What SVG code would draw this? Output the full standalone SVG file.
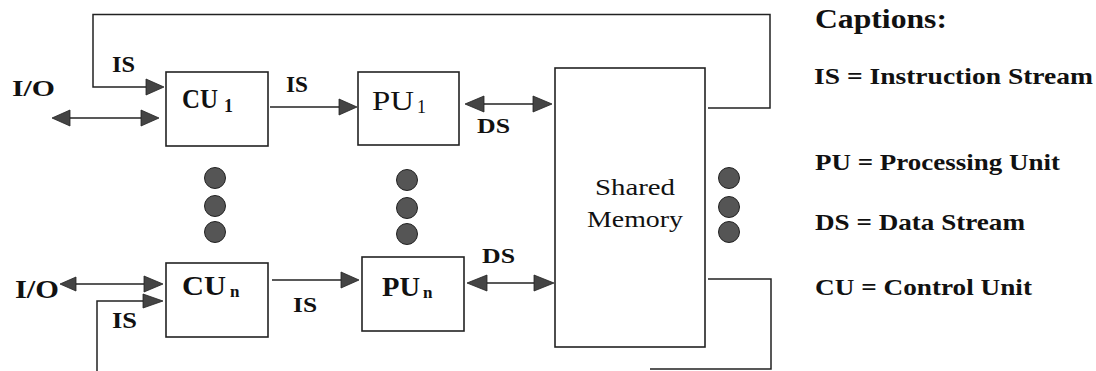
<svg xmlns="http://www.w3.org/2000/svg" width="1096" height="371" viewBox="0 0 1096 371">
<defs>
<style>
.box{fill:#fff;stroke:#222;stroke-width:1.6}
.ln{fill:none;stroke:#222;stroke-width:1.5}
.ah{fill:#444;stroke:#222;stroke-width:0.8}
.dot{fill:#555;stroke:#222;stroke-width:1}
.t{font-family:"Liberation Serif","Times New Roman",serif;fill:#111}
.b{font-weight:bold}
</style>
</defs>
<rect width="1096" height="371" fill="#fff"/>
<g id="connectors">
<path class="ln" d="M708,108 H770 V14.5 H93 V87 H150"/>
<polygon class="ah" points="164,87 146,79 146,95"/>
<path class="ln" d="M66,118 H144"/>
<polygon class="ah" points="52,118 70,110 70,126"/>
<polygon class="ah" points="159,118 141,110 141,126"/>
<path class="ln" d="M270,107 H342"/>
<polygon class="ah" points="357,107 339,99 339,115"/>
<path class="ln" d="M480,104 H536"/>
<polygon class="ah" points="465,104 484,96 484,112"/>
<polygon class="ah" points="552,104 533,96 533,112"/>
<path class="ln" d="M72,284 H146"/>
<polygon class="ah" points="60,284 76,277 76,291"/>
<polygon class="ah" points="163,284 144,276 144,292"/>
<path class="ln" d="M97,371 V301 H146"/>
<polygon class="ah" points="163,301 143,294 143,308"/>
<path class="ln" d="M272,280 H345"/>
<polygon class="ah" points="359,280 341,272 341,288"/>
<path class="ln" d="M482,283 H538"/>
<polygon class="ah" points="467,283 487,275 487,291"/>
<polygon class="ah" points="554,283 534,275 534,291"/>
<path class="ln" d="M708,279 H771 V369 H650"/>
</g>
<g id="cu1">
<rect class="box" x="166" y="72" width="102" height="74"/>
<text class="t b" x="182" y="108" font-size="28" textLength="36" lengthAdjust="spacingAndGlyphs">CU</text>
<text class="t b" x="224" y="112" font-size="18">1</text>
</g>
<g id="cun">
<rect class="box" x="166" y="263" width="102" height="74"/>
<text class="t b" x="182" y="295" font-size="28" textLength="44" lengthAdjust="spacingAndGlyphs">CU</text>
<text class="t b" x="230" y="297" font-size="17">n</text>
</g>
<g id="pu1">
<rect class="box" x="358" y="72" width="101" height="73"/>
<text class="t" x="372" y="110" font-size="28" textLength="42" lengthAdjust="spacingAndGlyphs">PU</text>
<text class="t" x="417" y="113" font-size="18">1</text>
</g>
<g id="pun">
<rect class="box" x="362" y="257" width="102" height="74"/>
<text class="t b" x="382" y="296" font-size="28" textLength="38" lengthAdjust="spacingAndGlyphs">PU</text>
<text class="t b" x="423" y="298" font-size="17">n</text>
</g>
<g id="shared-memory">
<rect class="box" x="555" y="68" width="150" height="279"/>
<text class="t" x="635" y="195" font-size="23" text-anchor="middle" textLength="80" lengthAdjust="spacingAndGlyphs">Shared</text>
<text class="t" x="635" y="227" font-size="23" text-anchor="middle" textLength="96" lengthAdjust="spacingAndGlyphs">Memory</text>
</g>
<g id="dots">
<circle class="dot" cx="215" cy="178" r="10.5"/>
<circle class="dot" cx="215" cy="206" r="10.5"/>
<circle class="dot" cx="215" cy="232" r="10.5"/>
<circle class="dot" cx="407" cy="180" r="10.5"/>
<circle class="dot" cx="407" cy="208" r="10.5"/>
<circle class="dot" cx="407" cy="234" r="10.5"/>
<circle class="dot" cx="729" cy="178" r="10.5"/>
<circle class="dot" cx="729" cy="207" r="10.5"/>
<circle class="dot" cx="729" cy="232" r="10.5"/>
</g>
<g id="labels">
<text class="t b" x="12" y="96" font-size="24" textLength="43" lengthAdjust="spacingAndGlyphs">I/O</text>
<text class="t b" x="15" y="298" font-size="26" textLength="44" lengthAdjust="spacingAndGlyphs">I/O</text>
<text class="t b" x="112" y="72" font-size="24" textLength="23" lengthAdjust="spacingAndGlyphs">IS</text>
<text class="t b" x="286" y="92" font-size="23" textLength="22" lengthAdjust="spacingAndGlyphs">IS</text>
<text class="t b" x="477" y="133" font-size="21" textLength="33" lengthAdjust="spacingAndGlyphs">DS</text>
<text class="t b" x="482" y="263" font-size="22" textLength="33" lengthAdjust="spacingAndGlyphs">DS</text>
<text class="t b" x="293" y="312" font-size="22" textLength="24" lengthAdjust="spacingAndGlyphs">IS</text>
<text class="t b" x="112" y="328" font-size="23" textLength="25" lengthAdjust="spacingAndGlyphs">IS</text>
</g>
<g id="captions">
<text class="t b" x="815" y="28" font-size="27" textLength="132" lengthAdjust="spacingAndGlyphs">Captions:</text>
<text class="t b" x="814" y="84" font-size="23" textLength="279" lengthAdjust="spacingAndGlyphs">IS = Instruction Stream</text>
<text class="t b" x="815" y="170" font-size="23" textLength="245" lengthAdjust="spacingAndGlyphs">PU = Processing Unit</text>
<text class="t b" x="815" y="230" font-size="23" textLength="210" lengthAdjust="spacingAndGlyphs">DS = Data Stream</text>
<text class="t b" x="815" y="295" font-size="23" textLength="217" lengthAdjust="spacingAndGlyphs">CU = Control Unit</text>
</g>
</svg>
